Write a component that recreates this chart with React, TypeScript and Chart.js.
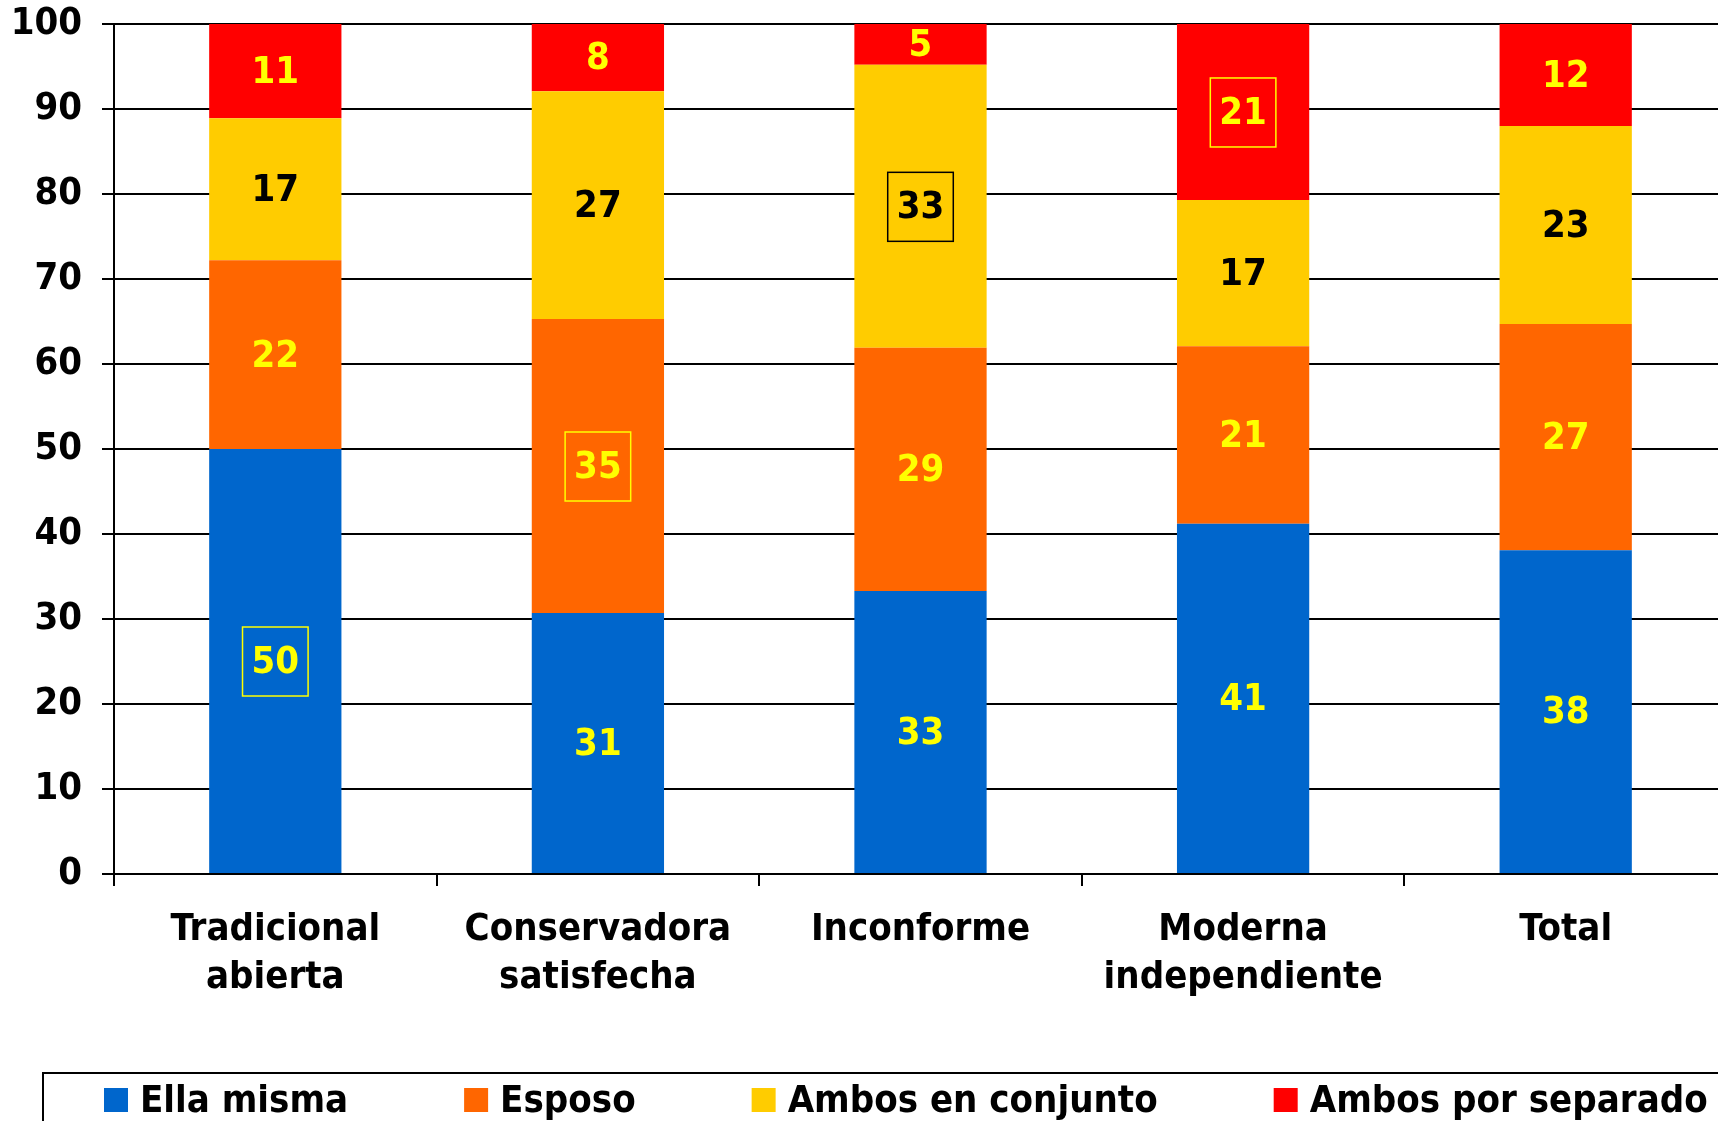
import { useEffect, useRef } from "react";
import { Chart, registerables } from "chart.js";

Chart.register(...registerables);

// ---------- data ----------
const categories: string[][] = [
  ["Tradicional", "abierta"],
  ["Conservadora", "satisfecha"],
  ["Inconforme"],
  ["Moderna", "independiente"],
  ["Total"],
];
const seriesNames = ["Ella misma", "Esposo", "Ambos en conjunto", "Ambos por separado"];
const ellaMisma = [50.0, 30.7, 33.3, 41.2, 38.1];
const esposo = [22.2, 34.6, 28.6, 20.9, 26.6];
const ambosConjunto = [16.7, 26.8, 33.3, 17.2, 23.3];
const ambosSeparado = [11.1, 7.9, 4.8, 20.7, 12.0];
const yMin = 0;
const yMax = 100;
const yStep = 10;
// [dataset index, category index] of labels drawn inside a frame
const boxedLabels: [number, number][] = [
  [0, 0],
  [1, 1],
  [2, 2],
  [3, 3],
];

// ---------- styles ----------
const seriesColors = ["#0066CC", "#FF6600", "#FFCC00", "#FF0000"];
const labelColors = ["#FFFF00", "#FFFF00", "#000000", "#FFFF00"];
const FONT = "'DejaVu Sans Condensed', 'DejaVu Sans', sans-serif";
const W = 1727;
const H = 1121;

const valueLabelPlugin = {
  id: "valueLabels",
  afterDatasetsDraw(chart: any) {
    const ctx = chart.ctx;
    ctx.save();
    ctx.font = `bold 38px ${FONT}`;
    ctx.textAlign = "center";
    ctx.textBaseline = "middle";
    chart.data.datasets.forEach((ds: any, di: number) => {
      const meta = chart.getDatasetMeta(di);
      meta.data.forEach((bar: any, i: number) => {
        const v = ds.data[i];
        const txt = String(Math.round(v));
        const cx = bar.x;
        const cy = (bar.y + bar.base) / 2;
        ctx.fillStyle = labelColors[di];
        ctx.fillText(txt, cx, cy + 2);
        if (boxedLabels.some(([d, c]) => d === di && c === i)) {
          const tw = ctx.measureText(txt).width;
          ctx.strokeStyle = labelColors[di];
          ctx.lineWidth = 1.5;
          ctx.strokeRect(cx - tw / 2 - 9, cy - 34, tw + 18, 69);
        }
      });
    });
    ctx.restore();
  },
};

const legendPlugin = {
  id: "customLegend",
  afterDraw(chart: any) {
    const ctx = chart.ctx;
    ctx.save();
    ctx.strokeStyle = "#000";
    ctx.lineWidth = 2;
    ctx.beginPath();
    ctx.moveTo(43, H + 10);
    ctx.lineTo(43, 1073);
    ctx.lineTo(chart.width + 10, 1073);
    ctx.stroke();
    ctx.font = `bold 38px ${FONT}`;
    ctx.textAlign = "left";
    ctx.textBaseline = "middle";
    let x = 104;
    const cy = 1100;
    chart.data.datasets.forEach((ds: any) => {
      ctx.fillStyle = ds.backgroundColor;
      ctx.fillRect(x, cy - 12, 24, 24);
      ctx.fillStyle = "#000";
      ctx.fillText(ds.label, x + 36, cy + 2);
      x += 36 + ctx.measureText(ds.label).width + 116;
    });
    ctx.restore();
  },
};

export default function App() {
  const ref = useRef<HTMLCanvasElement>(null);
  useEffect(() => {
    if (!ref.current) return;
    const series = [ellaMisma, esposo, ambosConjunto, ambosSeparado];
    const chart = new Chart(ref.current, {
      type: "bar",
      data: {
        labels: categories,
        datasets: series.map((d, i) => ({
          label: seriesNames[i],
          data: d,
          backgroundColor: seriesColors[i],
          borderWidth: 0,
          barPercentage: 0.41,
          categoryPercentage: 1,
        })),
      },
      options: {
        responsive: false,
        animation: false,
        layout: { padding: { top: 24, left: 0, right: 0, bottom: 0 } },
        plugins: { legend: { display: false }, tooltip: { enabled: false } },
        scales: {
          x: {
            stacked: true,
            afterFit: (s: any) => {
              s.height = H - 874;
              s.paddingLeft = 0;
              s.paddingRight = 0;
            },
            grid: {
              offset: true,
              drawOnChartArea: false,
              tickLength: 12,
              color: "#000",
              lineWidth: 2,
            },
            border: { color: "#000", width: 2 },
            ticks: {
              color: "#000",
              font: { family: FONT, size: 38, weight: "bold", lineHeight: 48 / 38 },
              padding: 20,
              maxRotation: 0,
              minRotation: 0,
              autoSkip: false,
            },
          },
          y: {
            stacked: true,
            min: yMin,
            max: yMax,
            afterFit: (s: any) => {
              s.width = 114;
              s.paddingTop = 0;
              s.paddingBottom = 0;
            },
            grid: { color: "#000", lineWidth: 2, tickLength: 12 },
            border: { color: "#000", width: 2 },
            ticks: {
              stepSize: yStep,
              color: "#000",
              font: { family: FONT, size: 38, weight: "bold" },
              padding: 20,
            },
          },
        },
      },
      plugins: [valueLabelPlugin, legendPlugin],
    });
    return () => chart.destroy();
  }, []);
  return (
    <div
      style={{
        position: "fixed",
        left: 0,
        top: 0,
        width: "1718px",
        height: `${H}px`,
        overflow: "hidden",
        background: "#fff",
      }}
    >
      <canvas ref={ref} width={W} height={H} style={{ width: `${W}px`, height: `${H}px`, display: "block" }} />
    </div>
  );
}
